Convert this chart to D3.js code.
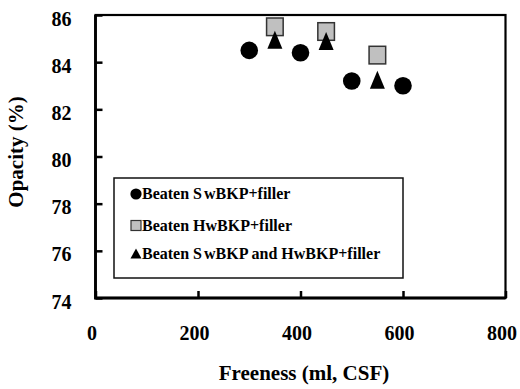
<!DOCTYPE html>
<html>
<head>
<meta charset="utf-8">
<script src="https://cdn.jsdelivr.net/npm/d3@7/dist/d3.min.js"></script>
<style>
  html, body { margin: 0; padding: 0; background: #fff; }
  svg text { font-family: "Liberation Serif", "Times New Roman", serif; font-weight: bold; fill: #000; }
</style>
</head>
<body>
<svg id="chart" width="520" height="389"></svg>
<script>
// Opacity vs. freeness for three furnishes
const swFreeness = [300, 400, 500, 600];
const swOpacity = [84.5, 84.4, 83.2, 83.0];

const hwFreeness = [350, 450, 550];
const hwOpacity = [85.5, 85.3, 84.3];

const mixFreeness = [350, 450, 550];
const mixOpacity = [84.95, 84.9, 83.25];

// legend labels, split where the renderer leaves a small gap after "S"
const seriesNames = [
  ["Beaten S", "wBKP+filler"],
  ["Beaten HwBKP+filler", ""],
  ["Beaten S", "wBKP and HwBKP+filler"]
];

const xTicks = [0, 200, 400, 600, 800];
const yTicks = [74, 76, 78, 80, 82, 84, 86];

const svg = d3.select("#chart");
const margin = { left: 95.5, right: 505.5, top: 15, bottom: 298 };

const x = d3.scaleLinear().domain([0, 800]).range([margin.left, margin.right]);
const y = d3.scaleLinear().domain([74, 86]).range([margin.bottom, margin.top]);

// plot frame: thin top/right, heavier axis lines
svg.append("rect")
  .attr("x", margin.left).attr("y", margin.top)
  .attr("width", margin.right - margin.left)
  .attr("height", margin.bottom - margin.top)
  .attr("fill", "none").attr("stroke", "#000").attr("stroke-width", 2.2);
svg.append("path")
  .attr("d", `M${margin.left},${margin.top}V${margin.bottom}H${margin.right}`)
  .attr("fill", "none").attr("stroke", "#000").attr("stroke-width", 2.8);

// y axis: inward ticks
const yAxis = d3.axisLeft(y).tickValues(yTicks).tickSize(-7).tickPadding(0).tickFormat(d3.format("d"));
const gy = svg.append("g").attr("transform", `translate(${margin.left},0)`).call(yAxis);
gy.select(".domain").remove();
gy.selectAll(".tick line").attr("stroke", "#000").attr("stroke-width", 2.5);
gy.selectAll(".tick text")
  .attr("x", -24).attr("dy", "0.68em").attr("y", -3.5)
  .attr("text-anchor", "end")
  .style("font-size", "20px");

// x axis: inward ticks
const xAxis = d3.axisBottom(x).tickValues(xTicks).tickSize(-7).tickFormat(d3.format("d"));
const gx = svg.append("g").attr("transform", `translate(0,${margin.bottom})`).call(xAxis);
gx.select(".domain").remove();
gx.selectAll(".tick line").attr("stroke", "#000").attr("stroke-width", 2.5);
gx.selectAll(".tick text")
  .attr("y", 42).attr("dy", 0).attr("x", -4)
  .attr("text-anchor", "middle")
  .style("font-size", "20px");

// axis titles
svg.append("text")
  .attr("x", 304).attr("y", 380)
  .attr("text-anchor", "middle")
  .style("font-size", "21px")
  .text("Freeness (ml, CSF)");

svg.append("text")
  .attr("transform", "translate(23,152) rotate(-90)")
  .attr("text-anchor", "middle")
  .style("font-size", "21px")
  .text("Opacity (%)");

// symbol generators
const triangle = (cx, cy, w, h) =>
  `M${cx},${cy - h / 2}L${cx + w / 2},${cy + h / 2}L${cx - w / 2},${cy + h / 2}Z`;

// legend
const lg = svg.append("g");
lg.append("rect")
  .attr("x", 114).attr("y", 178).attr("width", 289).attr("height", 100)
  .attr("fill", "#fff").attr("stroke", "#111").attr("stroke-width", 1.5);

const legendRows = [194, 225.5, 253.5];
lg.append("circle").attr("cx", 136).attr("cy", legendRows[0]).attr("r", 5.6).attr("fill", "#000");
lg.append("rect").attr("x", 131).attr("y", legendRows[1] - 5).attr("width", 10).attr("height", 10)
  .attr("fill", "#c0c0c0").attr("stroke", "#333").attr("stroke-width", 1.2);
lg.append("path").attr("d", triangle(136, legendRows[2], 11, 10)).attr("fill", "#000");

const legText = lg.selectAll("text.leg")
  .data(seriesNames)
  .join("text")
  .attr("class", "leg")
  .attr("x", 142).attr("y", (d, i) => legendRows[i] + 5)
  .style("font-size", "16px");
legText.append("tspan").text(d => d[0]);
legText.append("tspan").attr("dx", 2).text(d => d[1]);

// data markers
const plot = svg.append("g");
plot.selectAll("circle.sw")
  .data(swFreeness.map((f, i) => [f, swOpacity[i]]))
  .join("circle").attr("class", "sw")
  .attr("cx", d => x(d[0])).attr("cy", d => y(d[1]))
  .attr("r", 8.8).attr("fill", "#000");

plot.selectAll("rect.hw")
  .data(hwFreeness.map((f, i) => [f, hwOpacity[i]]))
  .join("rect").attr("class", "hw")
  .attr("x", d => x(d[0]) - 8.3).attr("y", d => y(d[1]) - 8.8)
  .attr("width", 16.6).attr("height", 17.6)
  .attr("fill", "#c0c0c0").attr("stroke", "#333").attr("stroke-width", 1.5);

plot.selectAll("path.mix")
  .data(mixFreeness.map((f, i) => [f, mixOpacity[i]]))
  .join("path").attr("class", "mix")
  .attr("d", d => triangle(x(d[0]), y(d[1]), 15, 18))
  .attr("fill", "#000");
</script>
</body>
</html>
